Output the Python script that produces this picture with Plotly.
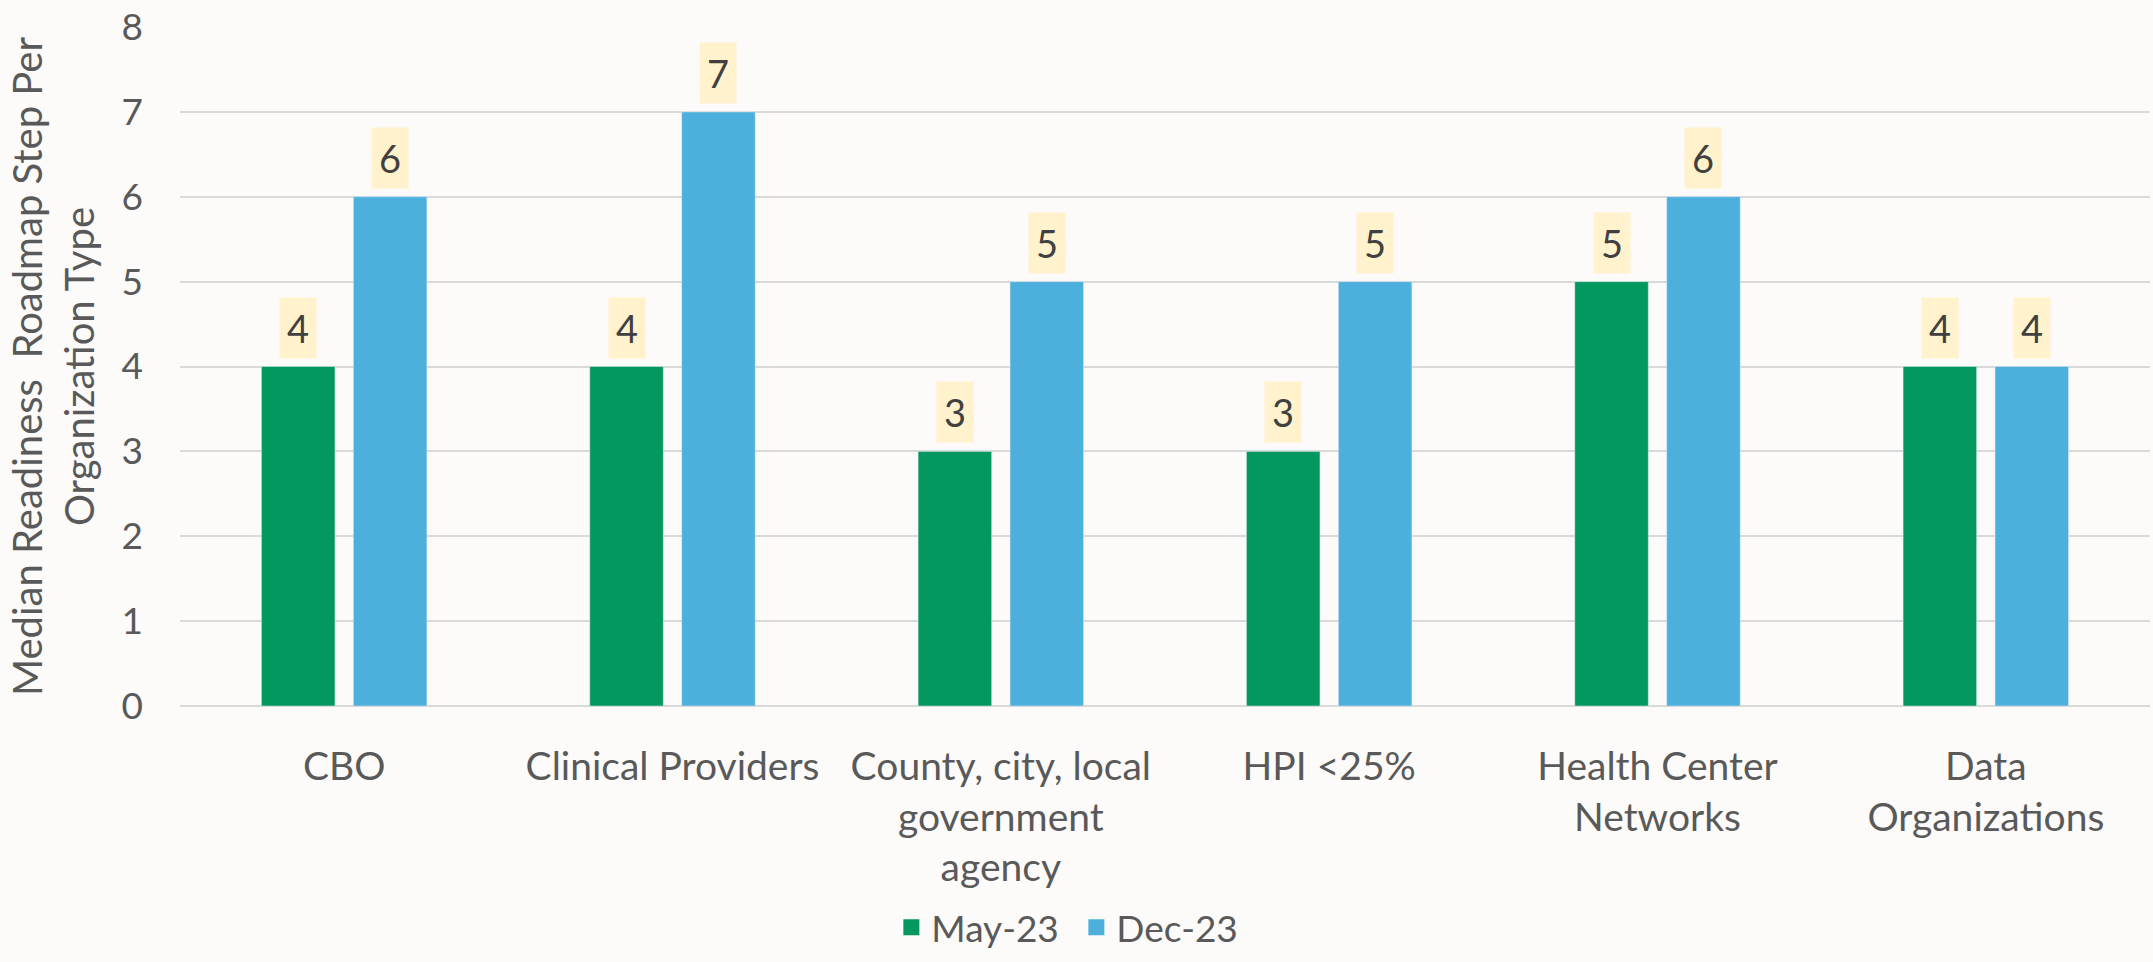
import plotly.graph_objects as go

categories = ["CBO", "Clinical Providers", "County, city, local<br>government<br>agency",
              "HPI <25%", "Health Center<br>Networks", "Data<br>Organizations"]
may_23 = [4, 4, 3, 3, 5, 4]
dec_23 = [6, 7, 5, 5, 6, 4]
series_names = ["May-23", "Dec-23"]

GREEN = "#03985F"
BLUE = "#4CAFDC"
FONT = "Lato, Open Sans, sans-serif"
TEXT = "#595959"

fig = go.Figure()
for vals, name, col in ((may_23, series_names[0], GREEN), (dec_23, series_names[1], BLUE)):
    fig.add_trace(go.Bar(x=categories, y=vals, name=name, marker_color=col, showlegend=False))
    # legend entry with a bigger square swatch
    fig.add_trace(go.Scatter(x=[None], y=[None], mode="markers", name=name,
                             marker=dict(symbol="square", size=23, color=col)))

bargap = 0.44
# data labels in light yellow boxes above each bar
offset = (1 - bargap) / 4
for i in range(len(categories)):
    for vals, dx in ((may_23, -offset), (dec_23, offset)):
        fig.add_annotation(
            x=i + dx, y=vals[i], text=str(vals[i]), showarrow=False,
            yanchor="bottom", yshift=8, bgcolor="#FFF2CC", borderpad=7,
            font=dict(family=FONT, size=38, color="#404040"),
        )

fig.update_layout(
    width=2153, height=962,
    paper_bgcolor="#FCFBF9", plot_bgcolor="#FCFBF9",
    margin=dict(l=180, r=3, t=23, b=255),
    barmode="group", bargap=bargap, bargroupgap=0.2,
    font=dict(family=FONT, size=39, color=TEXT),
    legend=dict(orientation="h", x=0.455, xanchor="center", y=-0.372, yanchor="bottom",
                font=dict(size=37, color=TEXT), itemsizing="trace", entrywidth=140),
)
fig.update_yaxes(range=[0, 8], dtick=1, showgrid=True, gridcolor="#D9D9D9", gridwidth=2,
                 zeroline=True, zerolinecolor="#D9D9D9", zerolinewidth=2,
                 ticks="", ticklabelstandoff=36, tickfont=dict(size=37),
                 ticklabeloverflow="allow",
                 title=dict(text="Median Readiness  Roadmap Step Per<br>Organization Type",
                            font=dict(size=40, color=TEXT), standoff=14))
fig.update_xaxes(showline=False, ticks="", ticklabelstandoff=34, tickangle=0)

fig.write_html("out.html", config={"displayModeBar": False},
               post_script="document.body.style.margin='0';")
